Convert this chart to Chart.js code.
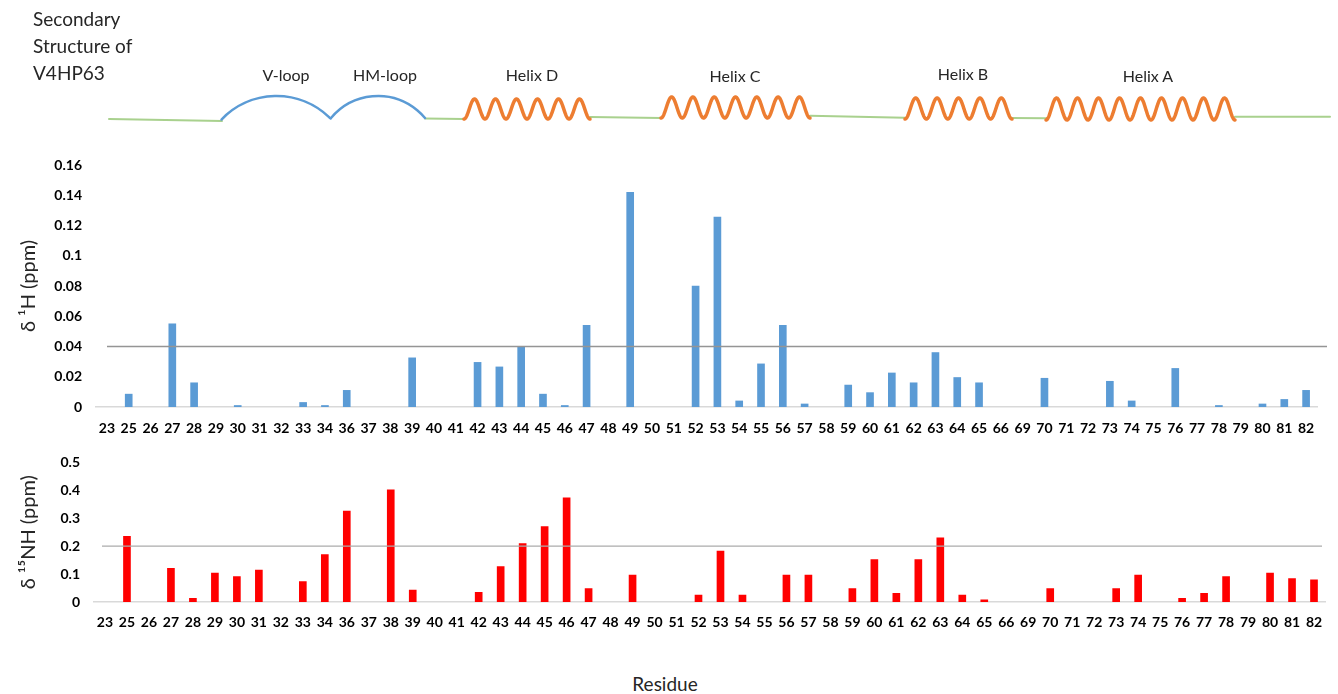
<!DOCTYPE html>
<html>
<head>
<meta charset="utf-8">
<script src="https://cdn.jsdelivr.net/npm/chart.js@4.4.1/dist/chart.umd.min.js"></script>
<style>
html,body{margin:0;padding:0;background:#fff;width:1338px;height:694px;overflow:hidden;font-family:Lato,"Open Sans",sans-serif;}
#wrap{position:relative;width:1338px;height:694px;}
canvas{position:absolute;left:0;}
.lbl{position:absolute;color:#262626;white-space:nowrap;line-height:1;transform:translate(-50%,-50%);}
.ttl{position:absolute;color:#262626;white-space:nowrap;line-height:1;transform:translateY(-50%);font-size:19px;}
</style>
</head>
<body>
<div id="wrap">
  <canvas id="struct" width="1338" height="140" style="top:0"></canvas>
  <div class="ttl" style="left:33px;top:18px">Secondary</div>
  <div class="ttl" style="left:33px;top:45px">Structure of</div>
  <div class="ttl" style="left:33px;top:72px">V4HP63</div>
  <div id="structLabels"></div>
  <canvas id="topChart" width="1338" height="300" style="top:140px"></canvas>
  <canvas id="botChart" width="1338" height="192" style="top:440px"></canvas>
  <div class="lbl" style="left:665px;top:683px;font-size:19px">Residue</div>
</div>
<script>
// ---------------- DATA ----------------
const residues = ["23","25","26","27","28","29","30","31","32","33","34","36","37","38","39","40","41","42","43","44","45","46","47","48","49","50","51","52","53","54","55","56","57","58","59","60","61","62","63","64","65","66","69","70","71","72","73","74","75","76","77","78","79","80","81","82"];

const deltaH1 = [0,0.0085,0,0.055,0.016,0,0.001,0,0,0.003,0.001,0.011,0,0,0.0325,0,0,0.0295,0.0265,0.040,0.0085,0.001,0.054,0,0.142,0,0,0.080,0.1255,0.004,0.0285,0.054,0.002,0,0.0145,0.0095,0.0225,0.016,0.036,0.0195,0.016,0,0,0.019,0,0,0.017,0.004,0,0.0255,0,0.001,0,0.002,0.005,0.011];

const deltaN15 = [0,0.235,0,0.121,0.013,0.104,0.091,0.114,0,0.073,0.170,0.326,0,0.402,0.043,0,0,0.035,0.127,0.209,0.270,0.373,0.048,0,0.096,0,0,0.025,0.182,0.025,0,0.096,0.096,0,0.048,0.152,0.031,0.152,0.230,0.025,0.008,0,0,0.048,0,0,0.048,0.096,0,0.013,0.031,0.091,0,0.104,0.084,0.079];

const thresholdH1 = 0.04;
const thresholdN15 = 0.2;

const h1AxisMax = 0.16, h1AxisStep = 0.02;
const n15AxisMax = 0.5, n15AxisStep = 0.1;

const structureNames = ["V-loop","HM-loop","Helix D","Helix C","Helix B","Helix A"];

// ---------------- STRUCTURE DIAGRAM ----------------
const labelPos = [[286,75],[385,75],[532,75],[735,76],[963,74],[1148,76]];
const lblHost = document.getElementById('structLabels');
structureNames.forEach((t,i)=>{
  const d = document.createElement('div');
  d.className='lbl'; d.textContent=t;
  d.style.left=labelPos[i][0]+'px'; d.style.top=labelPos[i][1]+'px'; d.style.fontSize='16px';
  lblHost.appendChild(d);
});

(function drawStruct(){
  const ctx = document.getElementById('struct').getContext('2d');
  ctx.lineCap='round'; ctx.lineJoin='round';
  ctx.strokeStyle='#A9D18E'; ctx.lineWidth=2;
  const greens=[[109,119,222,121],[425,118.5,464,119],[590,117,661,118],[810,115.7,905,117.7],[1012,118,1046,118.3],[1235,116.7,1330,116.7]];
  greens.forEach(g=>{ctx.beginPath();ctx.moveTo(g[0],g[1]);ctx.lineTo(g[2],g[3]);ctx.stroke();});
  ctx.strokeStyle='#5B9BD5'; ctx.lineWidth=2.5;
  function loop(x0,y0,x1,y1,top){
    const cx=(x0+x1)/2, half=(x1-x0)/2, s=((y0+y1)/2)-top;
    const r=(half*half+s*s)/(2*s), cy=top+r;
    const a0=Math.atan2(y0-cy,x0-cx), a1=Math.atan2(y1-cy,x1-cx);
    ctx.beginPath(); ctx.arc(cx,cy,r,a0,a1,false); ctx.stroke();
  }
  loop(222,120,331,118,96);
  loop(331,118,425,118,96);
  ctx.strokeStyle='#ED7D31'; ctx.lineWidth=3.5;
  function helix(x0,x1,n,yt,yb){
    ctx.beginPath();
    const steps=500;
    for(let i=0;i<=steps;i++){
      const t=i/steps, x=x0+(x1-x0)*t;
      const y=yb-(yb-yt)*(1-Math.cos(2*Math.PI*n*t))/2;
      if(i===0)ctx.moveTo(x,y);else ctx.lineTo(x,y);
    }
    ctx.stroke();
  }
  helix(464,590,6,99,119);
  helix(661,810,7,97,118);
  helix(905,1012,5,98,119);
  helix(1046,1235,9,98,120);
})();

// ---------------- CHARTS ----------------
const tickFont = {family:'Lato', size:14, weight:'bold'};
const titleFont = {family:'Lato', size:20};

const thresholdPlugin = {
  id:'threshold',
  afterDatasetsDraw(chart, args, opts){
    const {ctx, chartArea, scales} = chart;
    const y = scales.y.getPixelForValue(opts.value);
    ctx.save();
    ctx.strokeStyle = opts.color; ctx.lineWidth = 1.3;
    ctx.beginPath();
    ctx.moveTo(chartArea.left + opts.offL, y);
    ctx.lineTo(chartArea.right + opts.offR, y);
    ctx.stroke();
    ctx.restore();
  }
};

function makeChart(id, values, color, axisMax, step, threshold, titleText, cfg){
  return new Chart(document.getElementById(id), {
    type:'bar',
    data:{labels:residues, datasets:[{data:values.map(v=>v===0?null:v), backgroundColor:color, borderWidth:0, barThickness:7}]},
    plugins:[thresholdPlugin],
    options:{
      responsive:false, animation:false,
      layout:{padding:{top:cfg.padTop, right:cfg.padRight, left:0, bottom:0}},
      plugins:{legend:{display:false}, tooltip:{enabled:false},
        threshold:{value:threshold, color:cfg.thColor, offL:cfg.offL, offR:cfg.offR}},
      scales:{
        x:{
          grid:{display:false, drawTicks:false},
          border:{display:true, color:'#d9d9d9', width:1.5},
          ticks:{font:tickFont, color:'#000', padding:cfg.xPad, autoSkip:false, maxRotation:0},
          afterFit(s){ s.height = cfg.xHeight; }
        },
        y:{
          min:0, max:axisMax,
          grid:{display:false, drawTicks:false},
          border:{display:false},
          ticks:{stepSize:step, font:tickFont, color:'#000', padding:cfg.yPad,
            callback:v=>String(+Number(v).toFixed(2))},
          title:{display:true, text:titleText, font:titleFont, color:'#262626', padding:{top:cfg.titlePad, bottom:0}},
          afterFit(s){ s.width = cfg.yWidth; }
        }
      }
    }
  });
}

makeChart('topChart', deltaH1, '#5B9BD5', h1AxisMax, h1AxisStep, thresholdH1, 'δ ¹H (ppm)',
  {padTop:25, padRight:21, xHeight:33, xPad:13, yPad:14, yWidth:96, titlePad:17, thColor:'#959595', offL:11, offR:10});

makeChart('botChart', deltaN15, '#FF0000', n15AxisMax, n15AxisStep, thresholdN15, 'δ ¹⁵NH (ppm)',
  {padTop:9, padRight:13, xHeight:30, xPad:12, yPad:14, yWidth:94, titlePad:17, thColor:'#ababab', offL:8, offR:-3});
</script>
</body>
</html>
